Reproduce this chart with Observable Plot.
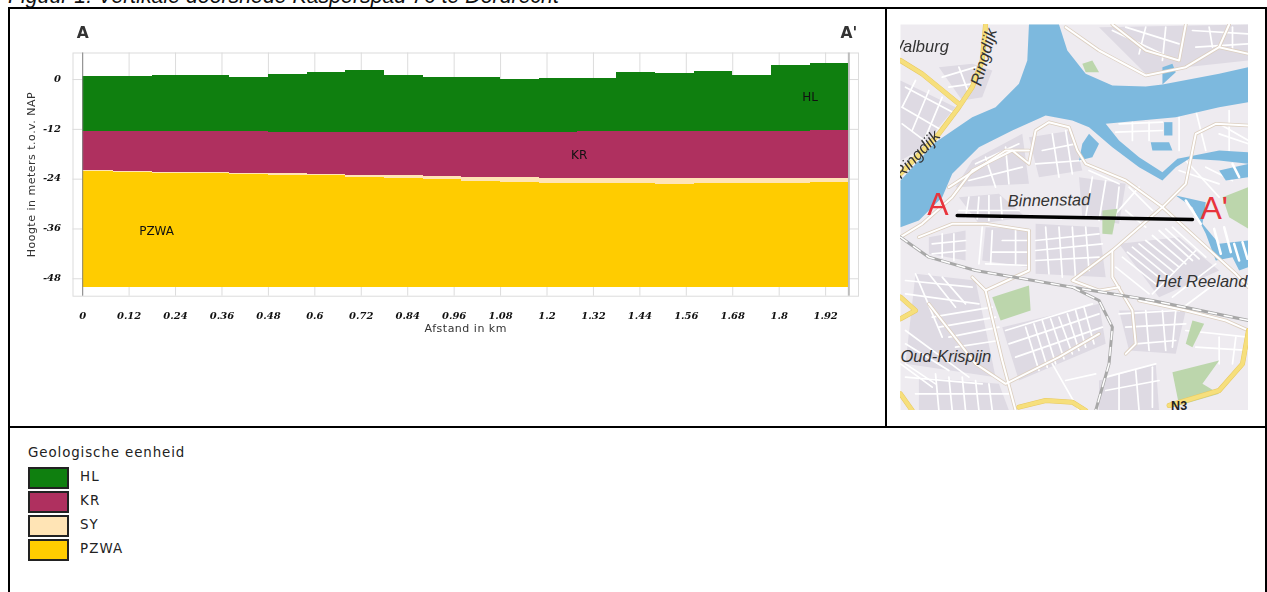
<!DOCTYPE html>
<html><head><meta charset="utf-8">
<script src="https://cdn.jsdelivr.net/npm/d3@7"></script>
<script src="https://cdn.jsdelivr.net/npm/@observablehq/plot@0.6"></script>
<style>
html,body{margin:0;padding:0;background:#fff;overflow:hidden;width:1267px;height:592px}
.abs{position:absolute}
.ln{position:absolute;background:#000}
#title{left:8px;top:-15.8px;font:italic 21.3px "Liberation Sans",Arial,sans-serif;white-space:nowrap;color:#111}
#chart svg,#map svg{display:block;background:transparent}
#chart{left:10px;top:9px;filter:blur(.35px)}
#map{left:900px;top:24px;filter:blur(.55px)}
#legend{left:28px;top:444px;font:13.4px "DejaVu Sans",sans-serif;color:#222}
#legend .h{position:absolute;left:0;top:1px;white-space:nowrap;letter-spacing:.9px}
#legend .s{position:absolute;left:0;width:37px;height:18px;border:2px solid #222}
#legend .t{position:absolute;left:52px;white-space:nowrap;letter-spacing:1.1px}
</style></head><body>
<div id="title" class="abs">Figuur 1: Vertikale doorsnede Kasperspad 76 te Dordrecht</div>
<div class="ln" style="left:8px;top:7px;width:1259px;height:2px"></div>
<div class="ln" style="left:8px;top:7px;width:2px;height:585px"></div>
<div class="ln" style="left:1265px;top:7px;width:2px;height:585px"></div>
<div class="ln" style="left:885px;top:7px;width:2px;height:420px"></div>
<div class="ln" style="left:8px;top:426px;width:1259px;height:2px"></div>
<div id="chart" class="abs"></div>
<div id="map" class="abs"></div>
<div id="legend" class="abs"></div>
<script>
// ---------- section data (km, m NAP) ----------
const breaks = [0,.08,.18,.28,.38,.48,.58,.68,.78,.88,.98,1.08,1.18,1.28,1.38,1.48,1.58,1.68,1.78,1.88,1.98];
const hlTop = [.8,.7,.9,1,.55,1.1,1.7,2.1,1,.5,.4,0,.3,.3,1.6,1.5,1.85,.9,3.5,3.9];
const hlBase = [-12.55,-12.55,-12.6,-12.6,-12.6,-12.7,-12.7,-12.7,-12.7,-12.7,-12.7,-12.7,-12.7,-12.6,-12.6,-12.55,-12.55,-12.5,-12.4,-12.25];
const krBase = [-22,-22.1,-22.3,-22.4,-22.6,-22.75,-22.9,-23.1,-23.2,-23.4,-23.55,-23.7,-23.8,-23.8,-23.8,-23.8,-23.8,-23.8,-23.8,-23.8];
const syBase = [-22.2,-22.35,-22.6,-22.75,-22.8,-23.1,-23.15,-23.55,-23.8,-24.2,-24.5,-24.75,-25,-25.15,-25.15,-25.25,-25.15,-25.1,-25.1,-24.75];
const pzBase = -50;
const units = ["HL","KR","SY","PZWA"];
const unitColors = ["#0f7f0f","#af305f","#ffe4b5","#ffcc00"];
const xTicks = [0,.12,.24,.36,.48,.6,.72,.84,.96,1.08,1.2,1.32,1.44,1.56,1.68,1.8,1.92];
const yTicks = [0,-12,-24,-36,-48];
const unitLabels = [{t:"HL",x:1.88,y:-4.35},{t:"KR",x:1.283,y:-18.33},{t:"PZWA",x:.191,y:-36.6}];
const endLabels = [{t:"A",x:0,y:11.1},{t:"A'",x:1.98,y:11.1}];

const segs = hlTop.map((_,i)=>i);
const layer = (tops,bots,c)=>Plot.rect(segs,{x1:i=>breaks[i],x2:i=>breaks[i+1],y1:bots,y2:tops,fill:c,shapeRendering:"crispEdges"});
const tickStyle = {fontFamily:"DejaVu Serif",fontWeight:"bold",fontStyle:"italic",fontSize:10,fill:"#111"};
const chart = Plot.plot({
  width:876,height:418,marginLeft:62.5,marginRight:28,marginTop:43.5,marginBottom:131.3,
  x:{domain:[-.025,2.005]},y:{domain:[-52.2,6.4]},
  marks:[
    Plot.gridX(xTicks,{stroke:"#dcdcdc",strokeOpacity:1}),
    Plot.gridY(yTicks,{stroke:"#dcdcdc",strokeOpacity:1}),
    Plot.frame({stroke:"#dcdcdc"}),
    Plot.ruleX([1.98],{stroke:"#bdbdbd",strokeWidth:2}),
    layer(i=>hlTop[i],i=>hlBase[i],unitColors[0]),
    layer(i=>hlBase[i],i=>krBase[i],unitColors[1]),
    layer(i=>krBase[i],i=>syBase[i],unitColors[2]),
    layer(i=>syBase[i],()=>pzBase,unitColors[3]),
    Plot.ruleX([0],{stroke:"#888"}),
    Plot.axisX(xTicks,{anchor:"bottom",tickSize:0,tickPadding:16,label:null,tickFormat:d=>String(+d.toFixed(2)),...tickStyle}),
    Plot.axisY(yTicks,{anchor:"left",tickSize:0,tickPadding:12,dy:-1,label:null,tickFormat:d=>String(d),...tickStyle}),
    Plot.text(["Afstand in km"],{frameAnchor:"bottom",dy:36,fontFamily:"DejaVu Sans",fontSize:11,fill:"#333"}),
    Plot.text(["Hoogte in meters t.o.v. NAP"],{frameAnchor:"left",textAnchor:"middle",rotate:-90,dx:-42,fontFamily:"DejaVu Sans",fontSize:11,fill:"#333"}),
    Plot.text(unitLabels,{x:"x",y:"y",text:"t",fontFamily:"DejaVu Sans",fontSize:12,fill:"#111",lineAnchor:"middle"}),
    Plot.text(endLabels,{x:"x",y:"y",text:"t",fontFamily:"DejaVu Sans",fontSize:15.5,fontWeight:"bold",fill:"#333"})
  ]
});
d3.select(chart).selectAll("text").filter(function(){return /Afstand|Hoogte/.test(this.textContent)}).style("letter-spacing",".5px");
document.getElementById("chart").append(chart);

// ---------- locator map (map coordinates) ----------
const water = [
 [[45,510],[150,395],[260,320],[330,290],[400,220],[425,150],[430,42],[520,42],[545,120],[600,190],[680,225],[780,228],[830,222],[1000,190],[1088,170],[1088,275],[1000,290],[870,320],[740,332],[660,340],[700,390],[760,440],[830,485],[875,445],[1000,420],[1088,425],[1088,460],[1000,450],[910,445],[870,470],[830,510],[760,470],[680,410],[610,350],[560,330],[480,315],[380,360],[280,410],[200,490],[170,560],[100,630],[45,650]],
 [[870,555],[960,575],[950,640],[1000,700],[1088,690],[1088,770],[1060,780],[1040,740],[990,750],[960,670],[920,590]],
 [[830,170],[860,160],[870,185],[830,222]],
 [[590,400],[610,370],[640,400],[620,440],[580,450]],
 [[1000,480],[1088,460],[1088,500],[1020,510]],
 [[795,395],[850,395],[860,420],[800,420]],
 [[835,335],[860,335],[860,375],[835,375]]
];
const parks = [
 [[320,860],[430,825],[435,900],[345,930]],
 [[650,600],[695,595],[680,672],[650,670]],
 [[1010,560],[1088,530],[1088,655],[1030,620]],
 [[860,1085],[1000,1050],[950,1120],[1000,1150],[880,1185]],
 [[590,160],[620,150],[640,185],[600,185]],
 [[920,930],[955,940],[920,1010],[900,1000]]
];
const blocks = [
 [[220,560],[340,550],[420,620],[280,640]],[[300,650],[430,655],[430,770],[290,750]],
 [[430,380],[560,360],[590,480],[460,500]],[[580,500],[720,520],[700,640],[590,620]],
 [[700,700],[880,680],[1000,780],[820,860]],[[450,640],[640,650],[660,800],[450,790]],
 [[130,680],[240,660],[240,750],[130,730]],[[90,790],[270,810],[330,1100],[60,1060]],
 [[350,950],[640,880],[660,1000],[400,1110]],[[700,900],[900,900],[870,1030],[730,1020]],
 [[640,1110],[810,1060],[820,1200],[640,1200]],[[100,1100],[340,1120],[370,1200],[100,1200]],
 [[45,210],[210,290],[100,420],[45,450]],[[160,170],[260,160],[320,180],[290,260],[230,270]],
 [[640,50],[1088,42],[1088,150],[900,170],[780,190]],[[260,450],[410,370],[430,520],[210,530]]
];
const mainRoads = [
 [[45,680],[110,640],[200,560],[260,480],[380,420],[430,460],[450,360],[490,335],[550,350],[575,420],[600,460],[720,510],[830,590],[900,520],[920,420],[930,370],[990,340],[1088,345]],
 [[830,590],[680,720],[680,800],[740,900],[750,1000],[720,1030]],
 [[830,590],[940,690],[1050,790],[1088,830]],
 [[430,660],[300,640],[200,640],[100,680]],
 [[130,880],[270,1060],[360,1120],[520,1040],[640,970]],
 [[300,840],[350,1050],[390,1200]],
 [[430,660],[430,780],[300,840],[260,800]],
 [[680,720],[560,810],[640,840],[700,830]],
 [[1088,960],[1020,930],[900,900],[760,870]],
 [[540,50],[640,120],[780,195],[900,170],[1000,110],[1030,42]],
 [[680,42],[780,120],[880,150],[900,42]],
 [[1000,110],[1088,130]],
 [[190,530],[360,420],[430,420]]
];
const yellowRoads = [
 [[45,150],[110,190],[220,280]],
 [[300,42],[290,150],[260,230],[220,290],[160,370],[45,490]],
 [[45,860],[90,900],[45,925]],
 [[400,1190],[480,1170],[560,1175],[600,1200]],
 [[850,1185],[1000,1140],[1070,1060],[1088,960]],
 [[45,1150],[80,1200]]
];
const rails = [
 [[45,680],[130,740],[270,780],[560,830],[800,870],[1088,930]],
 [[560,830],[640,870],[680,950],[670,1060],[630,1200]]
];
const piers = [
 [[985,655],[1005,730]],[[1015,650],[1035,725]],[[1045,700],[1060,750]],[[1070,695],[1085,745]],
 [[900,570],[945,640]],[[1040,460],[1060,500]]
];
const streets = [
 [[250,560],[240,620]],[[280,560],[275,625]],[[310,555],[310,630]],[[345,560],[350,625]],[[220,600],[400,600]],
 [[290,650],[280,760]],[[320,660],[315,760]],[[350,690],[430,690]],[[320,725],[430,725]],[[300,760],[430,765]],[[390,660],[390,760]],
 [[450,690],[640,670]],[[450,720],[650,700]],[[450,750],[640,740]],[[480,650],[490,790]],[[520,650],[530,800]],[[560,650],[570,810]],[[600,650],[610,780]],
 [[470,420],[570,400]],[[450,460],[590,450]],[[500,370],[520,500]],[[540,360],[560,490]],[[610,480],[700,520]],[[620,500],[600,620]],[[660,510],[640,630]],[[700,530],[690,620]],
 [[730,530],[800,600]],[[720,600],[780,650]],[[760,530],[690,610]],
 [[710,740],[810,820]],[[740,710],[850,800]],[[780,690],[880,770]],[[820,660],[920,750]],[[860,650],[960,740]],[[690,770],[790,850]],[[800,850],[930,720]],[[860,860],[990,760]],
 [[725,725],[825,805]],[[760,700],[865,785]],[[800,675],[900,760]],[[840,655],[940,745]],
 [[140,700],[240,690]],[[140,730],[240,720]],[[170,670],[170,740]],[[205,670],[205,750]],
 [[60,810],[260,830]],[[60,850],[280,880]],[[140,920],[320,890]],[[160,950],[330,920]],[[190,980],[340,950]],[[210,1010],[340,990]],
 [[90,790],[170,980]],[[130,790],[210,890]],[[170,800],[240,880]],[[60,960],[250,1100]],[[60,1000],[190,1080]],[[60,1060],[150,1120]],[[60,1100],[290,1120]],[[90,1150],[370,1150]],[[150,1090],[160,1200]],[[190,1100],[200,1200]],[[230,1100],[240,1200]],[[270,1110],[280,1200]],[[310,1120],[320,1200]],
 [[360,960],[620,880]],[[370,1000],[640,910]],[[390,1040],[650,950]],[[420,950],[460,1080]],[[445,940],[485,1070]],[[470,930],[510,1060]],[[495,925],[535,1045]],[[520,920],[560,1030]],[[545,910],[580,1020]],[[570,900],[600,1010]],[[595,890],[625,1000]],
 [[500,1060],[580,1200]],[[540,1110],[630,1090]],[[700,910],[880,900]],[[720,950],[900,940]],[[750,1000],[870,990]],[[780,900],[790,1020]],[[830,900],[840,1020]],[[740,900],[750,1000]],[[870,900],[860,1010]],
 [[660,1100],[810,1060]],[[660,1140],[820,1110]],[[700,1090],[700,1200]],[[750,1080],[760,1200]],[[800,1070],[800,1190]],
 [[60,230],[210,310]],[[50,290],[170,360]],[[50,340],[130,400]],[[90,210],[50,290]],[[130,240],[80,360]],[[170,260],[120,380]],
 [[170,200],[270,170]],[[190,230],[260,220]],[[220,170],[250,250]],
 [[270,460],[400,400]],[[250,510],[410,470]],[[300,440],[330,530]],[[360,410],[370,520]],
 [[680,60],[850,140]],[[720,50],[880,100]],[[780,50],[760,130]],[[840,50],[830,150]],[[920,60],[1088,70]],[[930,110],[1088,100]],[[970,50],[980,110]],[[1040,50],[1040,120]],
 [[700,340],[830,335]],[[690,365],[830,360]],[[740,335],[740,390]],[[790,335],[790,390]],[[880,320],[880,420]],[[930,300],[960,420]],[[1000,340],[1088,390]],[[1000,370],[1088,400]],[[1030,300],[1030,420]],
 [[880,480],[1000,520]],[[900,450],[1000,560]],[[960,470],[1040,510]],
 [[880,900],[1000,810]],[[900,960],[1088,980]],[[930,1010],[1088,1020]],[[1000,980],[1000,1060]],[[1050,980],[1040,1060]],[[45,1060],[140,1130]]
];
const section = [{x:215,y:615},{x:920,y:627}];
const placeNames = [
 {t:"Walburg",x:190,y:108,a:"end",r:0},{t:"Ringdijk",x:295,y:140,a:"middle",r:-74},
 {t:"Ringdijk",x:95,y:432,a:"middle",r:-47},{t:"Binnenstad",x:490,y:570,a:"middle",r:-1},
 {t:"Het Reeland",x:810,y:815,a:"start",r:0},{t:"Oud-Krispijn",x:45,y:1038,a:"start",r:0}
];
const redLabels = [{t:"A",x:157,y:583},{t:"A'",x:985,y:595}];
const roadShield = [{t:"N3",x:880,y:1186}];

const rows = list => list.flatMap((pts,id)=>pts.map(([x,y])=>({x,y,id})));
const mapColor = {land:"#eeebf0",block:"#dedae3",water:"#7db9de",park:"#bcd6ac",white:"#ffffff",casing:"#dccfc0",yellow:"#f6df7c",yellowEdge:"#e8c860",rail:"#a8a8a8"};
const nameMark = a => Plot.text(placeNames,{filter:d=>d.a===a,x:"x",y:"y",text:"t",textAnchor:a,rotate:"r",fontFamily:"Liberation Sans",fontStyle:"italic",fontSize:16.5,fill:"#333",lineAnchor:"middle"});
const mapPlot = Plot.plot({
  width:348,height:386,margin:0,
  x:{domain:[45,1088],axis:null},y:{domain:[42,1200],reverse:true,axis:null},
  marks:[
    Plot.frame({fill:mapColor.land,stroke:null}),
    Plot.line(rows(blocks),{x:"x",y:"y",z:"id",fill:mapColor.block,stroke:null,curve:"linear-closed"}),
    Plot.line(rows(streets),{x:"x",y:"y",z:"id",stroke:mapColor.white,strokeWidth:1.7}),
    Plot.line(rows(parks),{x:"x",y:"y",z:"id",fill:mapColor.park,stroke:null,curve:"linear-closed"}),
    Plot.line(rows(water),{x:"x",y:"y",z:"id",fill:mapColor.water,stroke:null,curve:"linear-closed"}),
    Plot.line(rows(piers),{x:"x",y:"y",z:"id",stroke:mapColor.white,strokeWidth:2.5}),
    Plot.line(rows(mainRoads),{x:"x",y:"y",z:"id",stroke:mapColor.casing,strokeWidth:3.6}),
    Plot.line(rows(mainRoads),{x:"x",y:"y",z:"id",stroke:mapColor.white,strokeWidth:2}),
    Plot.line(rows(rails),{x:"x",y:"y",z:"id",stroke:mapColor.rail,strokeWidth:3}),
    Plot.line(rows(rails),{x:"x",y:"y",z:"id",stroke:mapColor.white,strokeWidth:1.5,strokeDasharray:"8 8"}),
    Plot.line(rows(yellowRoads),{x:"x",y:"y",z:"id",stroke:mapColor.yellowEdge,strokeWidth:5}),
    Plot.line(rows(yellowRoads),{x:"x",y:"y",z:"id",stroke:mapColor.yellow,strokeWidth:4}),
    Plot.line(section,{x:"x",y:"y",stroke:"#000",strokeWidth:3.5}),
    nameMark("start"),nameMark("middle"),nameMark("end"),
    Plot.text(redLabels,{x:"x",y:"y",text:"t",fontFamily:"Liberation Sans",fontSize:32,fill:"#e8343c",lineAnchor:"middle"}),
    Plot.text(roadShield,{x:"x",y:"y",text:"t",fontFamily:"Liberation Sans",fontWeight:"bold",fontSize:12.5,fill:"#222",lineAnchor:"middle"})
  ]
});
document.getElementById("map").append(mapPlot);

// ---------- legend ----------
const legendTitle = "Geologische eenheid";
const leg = document.getElementById("legend");
leg.innerHTML = `<div class="h">${legendTitle}</div>` + units.map((u,i)=>
 `<div class="s" style="top:${23+i*24}px;background:${unitColors[i]}"></div><div class="t" style="top:${25+i*24}px">${u}</div>`).join("");
</script>
</body></html>
